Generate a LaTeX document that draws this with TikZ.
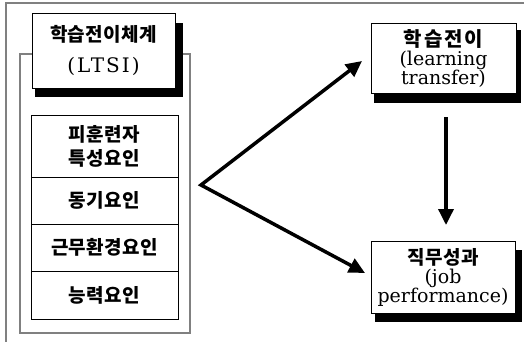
\documentclass[tikz,border=0pt]{standalone}
\usepackage{fontspec}
\setmainfont{DejaVu Serif}
\newfontfamily\lat{DejaVu Serif}
\newfontfamily\kr{Noto Sans CJK KR}[LetterSpace=2]
\usetikzlibrary{arrows.meta}
\begin{document}
\begin{tikzpicture}[x=1pt,y=-1pt,
  frame/.style={draw=black!50,line width=1.3pt},
  mainbox/.style={draw=black,line width=0.8pt,fill=white,inner sep=0pt,align=center},
  factor/.style={draw=black,line width=0.8pt,minimum width=147pt,inner sep=0pt,align=center,
    font=\kr\bfseries\fontsize{19}{24}\selectfont},
  bigarrow/.style={line width=3.5pt,-{Triangle[length=16pt,width=15pt]}}]
\useasboundingbox (0,0) rectangle (524,342);
% page frame
\draw[frame] (6,342) -- (6,3) -- (524,3);
% left container
\draw[frame] (20,54) rectangle (190,333);
% title box with shadow
\fill (35,23) rectangle (183,97);
\node[mainbox,minimum width=143pt,minimum height=75pt,font=\lat\fontsize{19}{20}\selectfont] (title) at (103.5,50.5)
  {{\kr\bfseries 학습전이체계}\\[11pt]{\addfontfeature{LetterSpace=10}\fontsize{20}{20}\selectfont (LTSI)}};
% factor stack
\node[factor,minimum height=62pt] (f1) at (104.5,146) {피훈련자\\특성요인};
\node[factor,minimum height=47pt] (f2) at (104.5,200.5) {동기요인};
\node[factor,minimum height=47pt] (f3) at (104.5,247.5) {근무환경요인};
\node[factor,minimum height=48pt] (f4) at (104.5,295) {능력요인};
% right boxes
\fill (374,30) rectangle (521,103);
\node[mainbox,minimum width=145pt,minimum height=70pt,font=\lat\fontsize{19}{19}\selectfont] (learn) at (443.5,58)
  {{\kr\bfseries\addfontfeature{LetterSpace=10}\fontsize{20}{19}\selectfont 학습전이}\\(learning\\transfer)};
\fill (375,250) rectangle (522,322);
\node[mainbox,minimum width=144pt,minimum height=72pt,font=\lat\fontsize{19}{19}\selectfont] (job) at (443,277)
  {{\kr\bfseries\fontsize{19}{19}\selectfont 직무성과}\\(job\\performance)};
% arrows
\coordinate (v) at (201,185);
\coordinate (t1) at (362,61);
\coordinate (t2) at (365,273);
\draw[line width=3.5pt,line join=miter,{Triangle[length=16pt,width=15pt]}-{Triangle[length=16pt,width=15pt]}] (t1) -- (v) -- (t2);
\coordinate (d1) at (446,117);
\coordinate (d2) at (446,225);
\draw[bigarrow] (d1) -- (d2);
\end{tikzpicture}
\end{document}
